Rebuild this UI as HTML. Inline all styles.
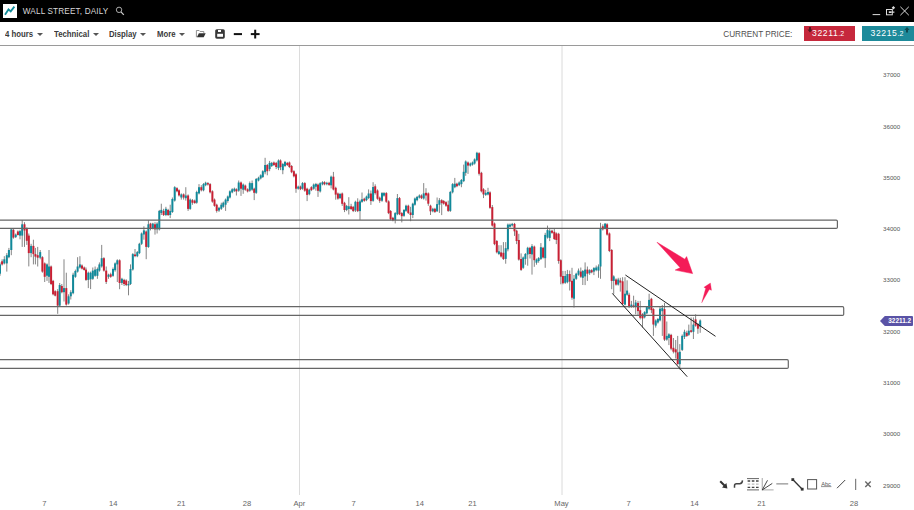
<!DOCTYPE html>
<html><head><meta charset="utf-8"><title>Wall Street, Daily</title>
<style>
html,body{margin:0;padding:0;background:#fff;}
body{width:914px;height:510px;overflow:hidden;position:relative;font-family:"Liberation Sans",sans-serif;}
#top{position:absolute;left:0;top:0;width:914px;height:22px;background:#000;}
#logo{position:absolute;left:3px;top:4px;width:14px;height:14px;background:#fff;}
#title{position:absolute;left:22.8px;top:5.8px;font-size:8.2px;line-height:11px;color:#d8d8d8;letter-spacing:0.15px;white-space:nowrap;}
#tb{position:absolute;left:0;top:22px;width:914px;height:23px;background:#fff;border-bottom:1px solid #9a9a9a;}
.mi{position:absolute;top:7.2px;font-size:8.6px;line-height:10px;font-weight:bold;color:#3a3a3a;white-space:nowrap;transform:scaleX(0.905);transform-origin:0 0;}
.dd{position:absolute;top:10.5px;width:0;height:0;border-left:3px solid transparent;border-right:3px solid transparent;border-top:3.5px solid #555;}
#cp{position:absolute;left:723.3px;top:8.2px;font-size:8.2px;line-height:10px;color:#505050;letter-spacing:-0.03px;white-space:nowrap;}
.pb{position:absolute;top:4px;height:14.5px;color:#fff;font-size:8.6px;letter-spacing:0.6px;line-height:14.5px;white-space:nowrap;}
.pb small{font-size:7px;letter-spacing:0.1px;}
svg text.ax{font-size:6.2px;fill:#555;font-family:"Liberation Sans",sans-serif;}
svg text.axx{font-size:7.6px;fill:#666;font-family:"Liberation Sans",sans-serif;}
</style></head><body>
<div id="top">
 <div id="logo"><svg width="14" height="14" viewBox="0 0 14 14"><polyline points="2,10.8 5.5,5.4 7.7,7.4 11.4,2.6" fill="none" stroke="#128c9b" stroke-width="1.8" stroke-linejoin="miter"/></svg></div>
 <div id="title">WALL STREET, DAILY</div>
 <svg style="position:absolute;left:115px;top:6px" width="12" height="12" viewBox="0 0 12 12"><circle cx="4.05" cy="3.85" r="2.7" fill="none" stroke="#bdbdbd" stroke-width="0.9"/><line x1="6" y1="5.8" x2="8.8" y2="8.8" stroke="#cfcfcf" stroke-width="1.2"/></svg>
 <svg style="position:absolute;left:870px;top:4px" width="42" height="14" viewBox="0 0 42 14">
  <line x1="2.6" y1="10.6" x2="10.2" y2="10.6" stroke="#ddd" stroke-width="1"/>
  <rect x="16.5" y="5.5" width="5.8" height="5.3" fill="none" stroke="#ddd" stroke-width="1"/>
  <rect x="18.8" y="7.3" width="2.6" height="1.7" fill="#ddd"/>
  <path d="M21.4 8.15 h3" stroke="#ddd" stroke-width="1.2" fill="none"/>
  <path d="M23.4 1.9 L25.1 3.7 L23.4 5.5 L21.7 3.7 Z" fill="#ddd"/>
  <path d="M30.4 2.8 L38.8 11.2 M38.8 2.8 L30.4 11.2" stroke="#ddd" stroke-width="1" fill="none"/>
 </svg>
</div>
<div id="tb">
 <div class="mi" style="left:5.4px">4 hours</div><div class="dd" style="left:37px"></div>
 <div class="mi" style="left:53.6px">Technical</div><div class="dd" style="left:93px"></div>
 <div class="mi" style="left:108.8px">Display</div><div class="dd" style="left:140.3px"></div>
 <div class="mi" style="left:156.5px">More</div><div class="dd" style="left:179.2px"></div>
 <svg style="position:absolute;left:194px;top:6px" width="70" height="12" viewBox="0 0 70 12">
  <!-- folder -->
  <path d="M2.4 9.2 V2.5 h2.7 l1 1 h3.7 v1.8" fill="none" stroke="#777" stroke-width="0.8"/>
  <path d="M4.9 5.3 h6.8 l-2 4 h-6.8 z" fill="#333"/>
  <!-- save -->
  <rect x="21.2" y="1.2" width="9.6" height="9.5" rx="1.6" fill="#383838"/>
  <rect x="24" y="2" width="3" height="2" fill="#fff"/>
  <rect x="23.2" y="5.8" width="5.8" height="3" fill="#fff"/>
  <!-- minus -->
  <rect x="39.8" y="5.1" width="8.2" height="2" fill="#111"/>
  <!-- plus -->
  <rect x="56.8" y="5.1" width="8.8" height="2" fill="#111"/>
  <rect x="60.2" y="1.7" width="2" height="8.8" fill="#111"/>
 </svg>
 <div id="cp">CURRENT PRICE:</div>
 <div class="pb" style="left:803.5px;width:51px;background:#c6283c;"><span style="position:absolute;left:8.5px">32211<small>.2</small></span>
  <svg style="position:absolute;left:3px;top:0.5px" width="6" height="6" viewBox="0 0 6 6"><path d="M2 0 h2 v2.6 h1.6 L3 5.6 0.4 2.6 H2z" fill="#5a1a22"/></svg></div>
 <div class="pb" style="left:861.5px;width:52.5px;background:#1d8a9a;"><span style="position:absolute;left:9px">32215<small>.2</small></span>
  <svg style="position:absolute;left:42.5px;top:0.5px" width="6" height="6" viewBox="0 0 6 6"><path d="M2 5.6 h2 v-2.6 h1.6 L3 0 0.4 3 H2z" fill="#0f4a52"/></svg></div>
</div>
<svg id="chart" style="position:absolute;left:0;top:0" width="914" height="510" viewBox="0 0 914 510">
 <line x1="299.5" y1="46" x2="299.5" y2="495" stroke="#dcdcdc" stroke-width="1"/>
 <line x1="562" y1="46" x2="562" y2="495" stroke="#dadada" stroke-width="1"/>
 <g>
<rect x="-0.5" y="262.4" width="1" height="13.4" fill="#858585"/>
<rect x="-1.0" y="264.4" width="2" height="9.3" fill="#11899a"/>
<rect x="1.6" y="259.3" width="1" height="6.2" fill="#858585"/>
<rect x="1.1" y="261.3" width="2" height="3.1" fill="#c82034"/>
<rect x="3.8" y="256.2" width="1" height="8.2" fill="#858585"/>
<rect x="3.3" y="259.3" width="2" height="4.1" fill="#11899a"/>
<rect x="6.3" y="253.1" width="1" height="18.5" fill="#858585"/>
<rect x="5.8" y="255.2" width="2" height="8.2" fill="#11899a"/>
<rect x="8.4" y="247.9" width="1" height="10.3" fill="#858585"/>
<rect x="7.9" y="250.0" width="2" height="7.2" fill="#11899a"/>
<rect x="10.8" y="228.4" width="1" height="26.8" fill="#858585"/>
<rect x="10.3" y="229.4" width="2" height="20.6" fill="#11899a"/>
<rect x="12.9" y="228.4" width="1" height="10.3" fill="#858585"/>
<rect x="12.4" y="229.8" width="2" height="7.8" fill="#c82034"/>
<rect x="15.2" y="233.5" width="1" height="4.5" fill="#858585"/>
<rect x="14.7" y="234.6" width="2" height="2.5" fill="#11899a"/>
<rect x="17.4" y="230.4" width="1" height="5.1" fill="#858585"/>
<rect x="16.9" y="231.5" width="2" height="3.5" fill="#c82034"/>
<rect x="19.5" y="229.8" width="1" height="9.5" fill="#858585"/>
<rect x="19.0" y="231.1" width="2" height="4.5" fill="#11899a"/>
<rect x="21.7" y="220.1" width="1" height="26.8" fill="#858585"/>
<rect x="21.2" y="224.3" width="2" height="11.3" fill="#11899a"/>
<rect x="24.0" y="222.2" width="1" height="24.7" fill="#858585"/>
<rect x="23.5" y="224.3" width="2" height="6.2" fill="#c82034"/>
<rect x="26.3" y="227.4" width="1" height="17.5" fill="#858585"/>
<rect x="25.8" y="228.4" width="2" height="12.4" fill="#c82034"/>
<rect x="28.3" y="233.5" width="1" height="32.9" fill="#858585"/>
<rect x="27.8" y="235.6" width="2" height="17.5" fill="#c82034"/>
<rect x="30.6" y="243.8" width="1" height="13.4" fill="#858585"/>
<rect x="30.1" y="245.9" width="2" height="7.2" fill="#11899a"/>
<rect x="32.9" y="239.7" width="1" height="24.7" fill="#858585"/>
<rect x="32.4" y="245.9" width="2" height="8.2" fill="#c82034"/>
<rect x="34.9" y="247.9" width="1" height="16.5" fill="#858585"/>
<rect x="34.4" y="254.1" width="2" height="2.5" fill="#c82034"/>
<rect x="37.2" y="246.9" width="1" height="19.6" fill="#858585"/>
<rect x="36.7" y="255.2" width="2" height="2.5" fill="#c82034"/>
<rect x="39.7" y="250.0" width="1" height="9.3" fill="#858585"/>
<rect x="39.2" y="252.1" width="2" height="5.6" fill="#11899a"/>
<rect x="41.9" y="256.2" width="1" height="16.5" fill="#858585"/>
<rect x="41.4" y="257.2" width="2" height="14.4" fill="#c82034"/>
<rect x="44.2" y="262.4" width="1" height="19.6" fill="#858585"/>
<rect x="43.7" y="263.4" width="2" height="13.4" fill="#c82034"/>
<rect x="46.5" y="263.4" width="1" height="17.5" fill="#858585"/>
<rect x="46.0" y="264.4" width="2" height="11.3" fill="#11899a"/>
<rect x="48.5" y="250.0" width="1" height="32.9" fill="#858585"/>
<rect x="48.0" y="266.5" width="2" height="10.3" fill="#11899a"/>
<rect x="50.6" y="265.5" width="1" height="19.6" fill="#858585"/>
<rect x="50.1" y="266.5" width="2" height="17.5" fill="#c82034"/>
<rect x="52.6" y="279.9" width="1" height="15.4" fill="#858585"/>
<rect x="52.1" y="280.9" width="2" height="13.4" fill="#c82034"/>
<rect x="54.7" y="290.2" width="1" height="6.2" fill="#858585"/>
<rect x="54.2" y="291.2" width="2" height="4.5" fill="#c82034"/>
<rect x="57.2" y="289.1" width="1" height="24.7" fill="#858585"/>
<rect x="56.7" y="291.2" width="2" height="14.4" fill="#c82034"/>
<rect x="59.2" y="283.0" width="1" height="23.7" fill="#858585"/>
<rect x="58.7" y="285.0" width="2" height="20.6" fill="#11899a"/>
<rect x="61.3" y="284.0" width="1" height="9.3" fill="#858585"/>
<rect x="60.8" y="286.0" width="2" height="6.2" fill="#c82034"/>
<rect x="63.5" y="259.3" width="1" height="42.2" fill="#858585"/>
<rect x="63.0" y="288.1" width="2" height="4.1" fill="#11899a"/>
<rect x="65.8" y="272.7" width="1" height="32.9" fill="#858585"/>
<rect x="65.3" y="288.1" width="2" height="16.5" fill="#c82034"/>
<rect x="68.1" y="294.3" width="1" height="10.3" fill="#858585"/>
<rect x="67.6" y="296.3" width="2" height="7.2" fill="#11899a"/>
<rect x="70.3" y="290.2" width="1" height="9.3" fill="#858585"/>
<rect x="69.8" y="292.2" width="2" height="4.1" fill="#11899a"/>
<rect x="72.6" y="272.7" width="1" height="21.6" fill="#858585"/>
<rect x="72.1" y="274.7" width="2" height="18.5" fill="#11899a"/>
<rect x="74.9" y="269.6" width="1" height="8.2" fill="#858585"/>
<rect x="74.4" y="271.0" width="2" height="5.8" fill="#11899a"/>
<rect x="77.1" y="257.2" width="1" height="15.4" fill="#858585"/>
<rect x="76.6" y="266.5" width="2" height="5.1" fill="#11899a"/>
<rect x="79.4" y="256.2" width="1" height="12.4" fill="#858585"/>
<rect x="78.9" y="264.4" width="2" height="3.1" fill="#11899a"/>
<rect x="81.5" y="264.4" width="1" height="5.1" fill="#858585"/>
<rect x="81.0" y="265.5" width="2" height="3.1" fill="#c82034"/>
<rect x="83.7" y="266.5" width="1" height="4.1" fill="#858585"/>
<rect x="83.2" y="267.5" width="2" height="2.5" fill="#c82034"/>
<rect x="85.5" y="267.5" width="1" height="13.4" fill="#858585"/>
<rect x="85.0" y="269.6" width="2" height="10.3" fill="#c82034"/>
<rect x="87.8" y="271.6" width="1" height="16.5" fill="#858585"/>
<rect x="87.3" y="272.7" width="2" height="7.2" fill="#11899a"/>
<rect x="90.1" y="271.6" width="1" height="17.5" fill="#858585"/>
<rect x="89.6" y="272.7" width="2" height="6.6" fill="#11899a"/>
<rect x="92.3" y="267.5" width="1" height="12.4" fill="#858585"/>
<rect x="91.8" y="270.6" width="2" height="8.2" fill="#11899a"/>
<rect x="94.6" y="266.5" width="1" height="10.3" fill="#858585"/>
<rect x="94.1" y="269.6" width="2" height="6.2" fill="#11899a"/>
<rect x="96.9" y="267.5" width="1" height="11.3" fill="#858585"/>
<rect x="96.4" y="269.0" width="2" height="6.8" fill="#11899a"/>
<rect x="98.9" y="262.4" width="1" height="9.3" fill="#858585"/>
<rect x="98.4" y="264.4" width="2" height="6.2" fill="#11899a"/>
<rect x="101.2" y="244.9" width="1" height="22.7" fill="#858585"/>
<rect x="100.7" y="258.2" width="2" height="8.2" fill="#11899a"/>
<rect x="103.4" y="257.2" width="1" height="14.4" fill="#858585"/>
<rect x="102.9" y="258.2" width="2" height="12.4" fill="#c82034"/>
<rect x="105.7" y="266.5" width="1" height="17.5" fill="#858585"/>
<rect x="105.2" y="270.6" width="2" height="11.3" fill="#c82034"/>
<rect x="108.0" y="273.7" width="1" height="5.1" fill="#858585"/>
<rect x="107.5" y="274.7" width="2" height="2.1" fill="#11899a"/>
<rect x="110.2" y="272.7" width="1" height="5.1" fill="#858585"/>
<rect x="109.7" y="274.3" width="2" height="2.5" fill="#c82034"/>
<rect x="112.5" y="267.5" width="1" height="9.3" fill="#858585"/>
<rect x="112.0" y="269.0" width="2" height="6.8" fill="#11899a"/>
<rect x="114.6" y="262.4" width="1" height="9.3" fill="#858585"/>
<rect x="114.1" y="263.4" width="2" height="6.8" fill="#11899a"/>
<rect x="116.8" y="259.3" width="1" height="22.7" fill="#858585"/>
<rect x="116.3" y="260.3" width="2" height="4.1" fill="#11899a"/>
<rect x="119.1" y="259.3" width="1" height="29.9" fill="#858585"/>
<rect x="118.6" y="260.3" width="2" height="22.7" fill="#c82034"/>
<rect x="121.4" y="277.8" width="1" height="7.2" fill="#858585"/>
<rect x="120.9" y="278.8" width="2" height="4.1" fill="#11899a"/>
<rect x="123.6" y="278.8" width="1" height="7.2" fill="#858585"/>
<rect x="123.1" y="279.9" width="2" height="4.1" fill="#c82034"/>
<rect x="125.7" y="279.3" width="1" height="6.8" fill="#858585"/>
<rect x="125.2" y="280.5" width="2" height="4.5" fill="#c82034"/>
<rect x="128.0" y="280.9" width="1" height="14.4" fill="#858585"/>
<rect x="127.5" y="284.0" width="2" height="1.4" fill="#11899a"/>
<rect x="130.0" y="264.4" width="1" height="20.6" fill="#858585"/>
<rect x="129.5" y="269.0" width="2" height="15.0" fill="#11899a"/>
<rect x="132.3" y="253.1" width="1" height="17.5" fill="#858585"/>
<rect x="131.8" y="254.1" width="2" height="15.4" fill="#11899a"/>
<rect x="134.5" y="249.0" width="1" height="8.2" fill="#858585"/>
<rect x="134.0" y="254.5" width="2" height="1.6" fill="#c82034"/>
<rect x="136.8" y="251.0" width="1" height="6.2" fill="#858585"/>
<rect x="136.3" y="252.1" width="2" height="4.1" fill="#11899a"/>
<rect x="138.9" y="242.8" width="1" height="11.3" fill="#858585"/>
<rect x="138.4" y="243.8" width="2" height="9.3" fill="#11899a"/>
<rect x="141.1" y="232.5" width="1" height="12.4" fill="#858585"/>
<rect x="140.6" y="233.5" width="2" height="10.3" fill="#11899a"/>
<rect x="143.4" y="226.3" width="1" height="13.4" fill="#858585"/>
<rect x="142.9" y="230.4" width="2" height="4.1" fill="#11899a"/>
<rect x="145.7" y="230.4" width="1" height="28.8" fill="#858585"/>
<rect x="145.2" y="231.5" width="2" height="15.4" fill="#c82034"/>
<rect x="147.9" y="220.1" width="1" height="27.8" fill="#858585"/>
<rect x="147.4" y="224.3" width="2" height="22.7" fill="#11899a"/>
<rect x="150.0" y="222.8" width="1" height="7.6" fill="#858585"/>
<rect x="149.5" y="223.6" width="2" height="4.7" fill="#c82034"/>
<rect x="152.3" y="222.8" width="1" height="6.6" fill="#858585"/>
<rect x="151.8" y="223.6" width="2" height="4.7" fill="#11899a"/>
<rect x="154.5" y="222.2" width="1" height="12.4" fill="#858585"/>
<rect x="154.0" y="224.3" width="2" height="5.1" fill="#c82034"/>
<rect x="156.6" y="222.2" width="1" height="11.3" fill="#858585"/>
<rect x="156.1" y="223.6" width="2" height="5.8" fill="#11899a"/>
<rect x="158.8" y="209.9" width="1" height="20.6" fill="#858585"/>
<rect x="158.3" y="210.9" width="2" height="18.5" fill="#11899a"/>
<rect x="160.8" y="203.7" width="1" height="11.3" fill="#858585"/>
<rect x="160.3" y="209.9" width="2" height="3.1" fill="#11899a"/>
<rect x="163.1" y="208.8" width="1" height="7.2" fill="#858585"/>
<rect x="162.6" y="210.9" width="2" height="4.1" fill="#c82034"/>
<rect x="165.4" y="206.8" width="1" height="9.3" fill="#858585"/>
<rect x="164.9" y="208.8" width="2" height="6.2" fill="#11899a"/>
<rect x="167.6" y="208.8" width="1" height="7.2" fill="#858585"/>
<rect x="167.1" y="209.9" width="2" height="5.1" fill="#c82034"/>
<rect x="169.7" y="204.7" width="1" height="13.4" fill="#858585"/>
<rect x="169.2" y="210.9" width="2" height="4.1" fill="#11899a"/>
<rect x="171.9" y="197.5" width="1" height="15.4" fill="#858585"/>
<rect x="171.4" y="199.0" width="2" height="13.0" fill="#11899a"/>
<rect x="174.2" y="186.2" width="1" height="15.4" fill="#858585"/>
<rect x="173.7" y="187.2" width="2" height="13.4" fill="#11899a"/>
<rect x="176.5" y="187.2" width="1" height="5.1" fill="#858585"/>
<rect x="176.0" y="188.2" width="2" height="3.1" fill="#c82034"/>
<rect x="178.5" y="189.3" width="1" height="7.2" fill="#858585"/>
<rect x="178.0" y="190.3" width="2" height="5.1" fill="#c82034"/>
<rect x="180.8" y="193.4" width="1" height="6.2" fill="#858585"/>
<rect x="180.3" y="194.4" width="2" height="3.1" fill="#11899a"/>
<rect x="183.1" y="193.4" width="1" height="6.2" fill="#858585"/>
<rect x="182.6" y="194.4" width="2" height="3.1" fill="#c82034"/>
<rect x="185.3" y="187.2" width="1" height="13.4" fill="#858585"/>
<rect x="184.8" y="195.5" width="2" height="2.7" fill="#11899a"/>
<rect x="187.6" y="194.4" width="1" height="16.5" fill="#858585"/>
<rect x="187.1" y="195.5" width="2" height="13.4" fill="#c82034"/>
<rect x="189.7" y="198.5" width="1" height="11.3" fill="#858585"/>
<rect x="189.2" y="199.6" width="2" height="9.3" fill="#11899a"/>
<rect x="191.9" y="199.0" width="1" height="5.8" fill="#858585"/>
<rect x="191.4" y="200.2" width="2" height="2.5" fill="#c82034"/>
<rect x="194.2" y="199.6" width="1" height="4.1" fill="#858585"/>
<rect x="193.7" y="200.6" width="2" height="2.5" fill="#c82034"/>
<rect x="196.2" y="190.7" width="1" height="13.0" fill="#858585"/>
<rect x="195.7" y="192.0" width="2" height="10.7" fill="#11899a"/>
<rect x="198.5" y="184.1" width="1" height="10.3" fill="#858585"/>
<rect x="198.0" y="187.2" width="2" height="6.2" fill="#11899a"/>
<rect x="200.8" y="185.2" width="1" height="6.2" fill="#858585"/>
<rect x="200.3" y="187.2" width="2" height="3.1" fill="#c82034"/>
<rect x="203.0" y="183.1" width="1" height="8.2" fill="#858585"/>
<rect x="202.5" y="184.1" width="2" height="6.2" fill="#11899a"/>
<rect x="205.1" y="181.7" width="1" height="4.5" fill="#858585"/>
<rect x="204.6" y="182.7" width="2" height="2.5" fill="#11899a"/>
<rect x="207.4" y="182.1" width="1" height="3.5" fill="#858585"/>
<rect x="206.9" y="183.1" width="2" height="1.4" fill="#c82034"/>
<rect x="209.6" y="183.1" width="1" height="10.3" fill="#858585"/>
<rect x="209.1" y="184.1" width="2" height="8.2" fill="#c82034"/>
<rect x="211.9" y="190.3" width="1" height="12.4" fill="#858585"/>
<rect x="211.4" y="191.3" width="2" height="10.3" fill="#c82034"/>
<rect x="214.0" y="198.5" width="1" height="8.2" fill="#858585"/>
<rect x="213.5" y="199.6" width="2" height="6.2" fill="#c82034"/>
<rect x="216.2" y="203.7" width="1" height="8.9" fill="#858585"/>
<rect x="215.7" y="204.7" width="2" height="6.2" fill="#c82034"/>
<rect x="218.5" y="206.8" width="1" height="5.1" fill="#858585"/>
<rect x="218.0" y="207.8" width="2" height="2.7" fill="#11899a"/>
<rect x="220.8" y="202.7" width="1" height="7.2" fill="#858585"/>
<rect x="220.3" y="204.7" width="2" height="4.1" fill="#11899a"/>
<rect x="222.8" y="201.6" width="1" height="6.2" fill="#858585"/>
<rect x="222.3" y="202.7" width="2" height="4.1" fill="#11899a"/>
<rect x="225.1" y="198.5" width="1" height="12.4" fill="#858585"/>
<rect x="224.6" y="199.6" width="2" height="5.1" fill="#11899a"/>
<rect x="227.3" y="195.5" width="1" height="7.2" fill="#858585"/>
<rect x="226.8" y="196.5" width="2" height="4.5" fill="#11899a"/>
<rect x="229.4" y="190.3" width="1" height="8.2" fill="#858585"/>
<rect x="228.9" y="191.3" width="2" height="6.2" fill="#11899a"/>
<rect x="231.7" y="188.2" width="1" height="5.1" fill="#858585"/>
<rect x="231.2" y="189.3" width="2" height="3.1" fill="#11899a"/>
<rect x="233.9" y="187.6" width="1" height="4.3" fill="#858585"/>
<rect x="233.4" y="188.7" width="2" height="2.1" fill="#11899a"/>
<rect x="235.9" y="188.3" width="1" height="7.2" fill="#858585"/>
<rect x="235.4" y="189.3" width="2" height="2.1" fill="#c82034"/>
<rect x="238.2" y="180.5" width="1" height="11.3" fill="#858585"/>
<rect x="237.7" y="182.5" width="2" height="8.2" fill="#11899a"/>
<rect x="240.5" y="181.5" width="1" height="14.4" fill="#858585"/>
<rect x="240.0" y="182.5" width="2" height="6.2" fill="#c82034"/>
<rect x="242.7" y="183.5" width="1" height="10.3" fill="#858585"/>
<rect x="242.2" y="184.6" width="2" height="5.1" fill="#11899a"/>
<rect x="244.8" y="184.6" width="1" height="6.2" fill="#858585"/>
<rect x="244.3" y="185.6" width="2" height="4.1" fill="#c82034"/>
<rect x="247.1" y="188.3" width="1" height="4.1" fill="#858585"/>
<rect x="246.6" y="189.3" width="2" height="2.1" fill="#c82034"/>
<rect x="249.3" y="181.5" width="1" height="10.3" fill="#858585"/>
<rect x="248.8" y="183.1" width="2" height="7.6" fill="#11899a"/>
<rect x="251.6" y="180.5" width="1" height="10.3" fill="#858585"/>
<rect x="251.1" y="183.1" width="2" height="6.6" fill="#11899a"/>
<rect x="253.7" y="187.7" width="1" height="12.4" fill="#858585"/>
<rect x="253.2" y="188.7" width="2" height="4.1" fill="#c82034"/>
<rect x="255.7" y="178.0" width="1" height="15.9" fill="#858585"/>
<rect x="255.2" y="179.0" width="2" height="13.8" fill="#11899a"/>
<rect x="258.0" y="176.7" width="1" height="4.7" fill="#858585"/>
<rect x="257.5" y="177.8" width="2" height="2.7" fill="#11899a"/>
<rect x="260.2" y="174.3" width="1" height="5.1" fill="#858585"/>
<rect x="259.7" y="175.3" width="2" height="3.1" fill="#11899a"/>
<rect x="262.3" y="170.2" width="1" height="7.8" fill="#858585"/>
<rect x="261.8" y="171.2" width="2" height="5.8" fill="#11899a"/>
<rect x="264.6" y="157.8" width="1" height="16.5" fill="#858585"/>
<rect x="264.1" y="165.0" width="2" height="7.2" fill="#11899a"/>
<rect x="266.8" y="164.0" width="1" height="11.3" fill="#858585"/>
<rect x="266.3" y="165.0" width="2" height="6.2" fill="#c82034"/>
<rect x="269.1" y="160.9" width="1" height="10.3" fill="#858585"/>
<rect x="268.6" y="162.9" width="2" height="6.2" fill="#11899a"/>
<rect x="271.2" y="161.9" width="1" height="5.1" fill="#858585"/>
<rect x="270.7" y="162.9" width="2" height="3.1" fill="#11899a"/>
<rect x="273.4" y="161.5" width="1" height="4.5" fill="#858585"/>
<rect x="272.9" y="162.5" width="2" height="2.5" fill="#c82034"/>
<rect x="275.7" y="161.9" width="1" height="7.2" fill="#858585"/>
<rect x="275.2" y="162.9" width="2" height="4.1" fill="#c82034"/>
<rect x="278.0" y="159.4" width="1" height="10.7" fill="#858585"/>
<rect x="277.5" y="160.5" width="2" height="7.6" fill="#11899a"/>
<rect x="280.0" y="159.4" width="1" height="10.7" fill="#858585"/>
<rect x="279.5" y="160.5" width="2" height="6.6" fill="#c82034"/>
<rect x="282.3" y="162.9" width="1" height="11.3" fill="#858585"/>
<rect x="281.8" y="164.0" width="2" height="6.2" fill="#11899a"/>
<rect x="284.5" y="160.9" width="1" height="6.2" fill="#858585"/>
<rect x="284.0" y="161.9" width="2" height="4.1" fill="#11899a"/>
<rect x="286.8" y="161.9" width="1" height="4.1" fill="#858585"/>
<rect x="286.3" y="162.9" width="2" height="2.1" fill="#c82034"/>
<rect x="288.9" y="161.5" width="1" height="6.6" fill="#858585"/>
<rect x="288.4" y="162.5" width="2" height="4.5" fill="#c82034"/>
<rect x="291.1" y="165.0" width="1" height="8.2" fill="#858585"/>
<rect x="290.6" y="166.0" width="2" height="6.2" fill="#c82034"/>
<rect x="293.4" y="170.2" width="1" height="7.2" fill="#858585"/>
<rect x="292.9" y="171.2" width="2" height="5.1" fill="#c82034"/>
<rect x="295.5" y="173.2" width="1" height="19.6" fill="#858585"/>
<rect x="295.0" y="174.3" width="2" height="14.4" fill="#c82034"/>
<rect x="297.7" y="185.6" width="1" height="4.1" fill="#858585"/>
<rect x="297.2" y="186.6" width="2" height="2.1" fill="#11899a"/>
<rect x="300.0" y="185.6" width="1" height="4.5" fill="#858585"/>
<rect x="299.5" y="186.6" width="2" height="2.5" fill="#c82034"/>
<rect x="302.0" y="182.1" width="1" height="7.6" fill="#858585"/>
<rect x="301.5" y="183.1" width="2" height="5.6" fill="#11899a"/>
<rect x="304.3" y="182.1" width="1" height="9.7" fill="#858585"/>
<rect x="303.8" y="183.1" width="2" height="7.6" fill="#c82034"/>
<rect x="306.6" y="187.7" width="1" height="13.4" fill="#858585"/>
<rect x="306.1" y="188.7" width="2" height="6.2" fill="#c82034"/>
<rect x="308.8" y="188.7" width="1" height="6.6" fill="#858585"/>
<rect x="308.3" y="189.7" width="2" height="4.5" fill="#11899a"/>
<rect x="310.9" y="186.2" width="1" height="4.9" fill="#858585"/>
<rect x="310.4" y="187.2" width="2" height="2.9" fill="#c82034"/>
<rect x="313.2" y="183.5" width="1" height="6.2" fill="#858585"/>
<rect x="312.7" y="184.6" width="2" height="4.1" fill="#11899a"/>
<rect x="315.4" y="182.9" width="1" height="7.8" fill="#858585"/>
<rect x="314.9" y="184.0" width="2" height="2.7" fill="#11899a"/>
<rect x="317.5" y="183.5" width="1" height="13.4" fill="#858585"/>
<rect x="317.0" y="184.6" width="2" height="6.2" fill="#c82034"/>
<rect x="319.7" y="182.2" width="1" height="10.3" fill="#858585"/>
<rect x="319.2" y="183.2" width="2" height="8.2" fill="#11899a"/>
<rect x="322.0" y="181.2" width="1" height="4.1" fill="#858585"/>
<rect x="321.5" y="182.2" width="2" height="2.1" fill="#11899a"/>
<rect x="324.0" y="181.2" width="1" height="4.1" fill="#858585"/>
<rect x="323.5" y="182.2" width="2" height="2.1" fill="#c82034"/>
<rect x="326.3" y="181.8" width="1" height="3.5" fill="#858585"/>
<rect x="325.8" y="182.8" width="2" height="1.4" fill="#11899a"/>
<rect x="328.6" y="181.8" width="1" height="4.1" fill="#858585"/>
<rect x="328.1" y="182.8" width="2" height="2.1" fill="#c82034"/>
<rect x="330.6" y="175.6" width="1" height="12.8" fill="#858585"/>
<rect x="330.1" y="176.7" width="2" height="8.6" fill="#11899a"/>
<rect x="332.9" y="171.9" width="1" height="18.5" fill="#858585"/>
<rect x="332.4" y="176.7" width="2" height="12.8" fill="#c82034"/>
<rect x="335.2" y="186.7" width="1" height="13.0" fill="#858585"/>
<rect x="334.7" y="187.8" width="2" height="6.8" fill="#c82034"/>
<rect x="337.4" y="192.5" width="1" height="7.2" fill="#858585"/>
<rect x="336.9" y="193.5" width="2" height="5.1" fill="#c82034"/>
<rect x="339.5" y="192.9" width="1" height="6.2" fill="#858585"/>
<rect x="339.0" y="194.0" width="2" height="4.1" fill="#11899a"/>
<rect x="341.7" y="192.5" width="1" height="13.4" fill="#858585"/>
<rect x="341.2" y="193.5" width="2" height="10.3" fill="#c82034"/>
<rect x="344.0" y="201.8" width="1" height="10.3" fill="#858585"/>
<rect x="343.5" y="202.8" width="2" height="7.2" fill="#c82034"/>
<rect x="346.1" y="204.9" width="1" height="6.2" fill="#858585"/>
<rect x="345.6" y="205.9" width="2" height="4.1" fill="#11899a"/>
<rect x="348.3" y="197.2" width="1" height="17.3" fill="#858585"/>
<rect x="347.8" y="206.3" width="2" height="2.7" fill="#11899a"/>
<rect x="350.6" y="203.8" width="1" height="6.2" fill="#858585"/>
<rect x="350.1" y="206.3" width="2" height="2.7" fill="#c82034"/>
<rect x="352.7" y="205.9" width="1" height="6.2" fill="#858585"/>
<rect x="352.2" y="206.9" width="2" height="4.1" fill="#c82034"/>
<rect x="354.9" y="200.7" width="1" height="11.3" fill="#858585"/>
<rect x="354.4" y="201.8" width="2" height="8.6" fill="#11899a"/>
<rect x="357.2" y="198.3" width="1" height="13.8" fill="#858585"/>
<rect x="356.7" y="201.8" width="2" height="9.3" fill="#c82034"/>
<rect x="359.5" y="199.7" width="1" height="20.2" fill="#858585"/>
<rect x="359.0" y="201.4" width="2" height="9.7" fill="#11899a"/>
<rect x="361.5" y="192.5" width="1" height="10.3" fill="#858585"/>
<rect x="361.0" y="199.3" width="2" height="2.5" fill="#11899a"/>
<rect x="363.8" y="197.7" width="1" height="4.1" fill="#858585"/>
<rect x="363.3" y="198.7" width="2" height="2.1" fill="#c82034"/>
<rect x="366.0" y="195.6" width="1" height="5.6" fill="#858585"/>
<rect x="365.5" y="196.6" width="2" height="3.5" fill="#11899a"/>
<rect x="368.1" y="189.4" width="1" height="9.7" fill="#858585"/>
<rect x="367.6" y="193.5" width="2" height="4.5" fill="#11899a"/>
<rect x="370.4" y="190.5" width="1" height="14.4" fill="#858585"/>
<rect x="369.9" y="193.5" width="2" height="7.6" fill="#c82034"/>
<rect x="372.6" y="182.2" width="1" height="19.6" fill="#858585"/>
<rect x="372.1" y="187.0" width="2" height="13.8" fill="#11899a"/>
<rect x="374.7" y="184.3" width="1" height="10.3" fill="#858585"/>
<rect x="374.2" y="186.3" width="2" height="6.8" fill="#c82034"/>
<rect x="377.0" y="189.4" width="1" height="10.3" fill="#858585"/>
<rect x="376.5" y="190.5" width="2" height="8.2" fill="#c82034"/>
<rect x="379.2" y="196.6" width="1" height="6.2" fill="#858585"/>
<rect x="378.7" y="197.7" width="2" height="3.1" fill="#c82034"/>
<rect x="381.5" y="192.1" width="1" height="9.7" fill="#858585"/>
<rect x="381.0" y="193.1" width="2" height="7.6" fill="#11899a"/>
<rect x="383.5" y="192.1" width="1" height="4.5" fill="#858585"/>
<rect x="383.0" y="193.1" width="2" height="2.5" fill="#11899a"/>
<rect x="385.8" y="192.1" width="1" height="10.7" fill="#858585"/>
<rect x="385.3" y="193.1" width="2" height="8.6" fill="#c82034"/>
<rect x="388.1" y="200.3" width="1" height="13.8" fill="#858585"/>
<rect x="387.6" y="201.4" width="2" height="11.7" fill="#c82034"/>
<rect x="390.1" y="210.0" width="1" height="10.3" fill="#858585"/>
<rect x="389.6" y="211.0" width="2" height="8.2" fill="#c82034"/>
<rect x="392.4" y="216.8" width="1" height="4.5" fill="#858585"/>
<rect x="391.9" y="217.8" width="2" height="2.5" fill="#c82034"/>
<rect x="394.7" y="212.1" width="1" height="11.3" fill="#858585"/>
<rect x="394.2" y="213.1" width="2" height="6.8" fill="#11899a"/>
<rect x="396.9" y="194.0" width="1" height="21.2" fill="#858585"/>
<rect x="396.4" y="198.1" width="2" height="16.1" fill="#11899a"/>
<rect x="399.0" y="197.0" width="1" height="18.1" fill="#858585"/>
<rect x="398.5" y="198.1" width="2" height="16.1" fill="#c82034"/>
<rect x="401.3" y="212.1" width="1" height="10.3" fill="#858585"/>
<rect x="400.8" y="213.1" width="2" height="3.1" fill="#c82034"/>
<rect x="403.5" y="209.0" width="1" height="7.8" fill="#858585"/>
<rect x="403.0" y="210.0" width="2" height="5.8" fill="#11899a"/>
<rect x="405.5" y="204.7" width="1" height="7.2" fill="#858585"/>
<rect x="405.0" y="205.7" width="2" height="5.1" fill="#11899a"/>
<rect x="407.8" y="204.7" width="1" height="9.3" fill="#858585"/>
<rect x="407.3" y="205.7" width="2" height="7.2" fill="#c82034"/>
<rect x="410.1" y="206.8" width="1" height="14.4" fill="#858585"/>
<rect x="409.6" y="212.5" width="2" height="2.5" fill="#c82034"/>
<rect x="412.3" y="202.7" width="1" height="15.4" fill="#858585"/>
<rect x="411.8" y="203.7" width="2" height="11.3" fill="#11899a"/>
<rect x="414.4" y="197.5" width="1" height="8.2" fill="#858585"/>
<rect x="413.9" y="198.5" width="2" height="6.2" fill="#11899a"/>
<rect x="416.6" y="195.9" width="1" height="5.4" fill="#858585"/>
<rect x="416.1" y="196.9" width="2" height="3.3" fill="#11899a"/>
<rect x="418.9" y="194.4" width="1" height="4.1" fill="#858585"/>
<rect x="418.4" y="195.5" width="2" height="2.1" fill="#11899a"/>
<rect x="421.0" y="194.4" width="1" height="4.7" fill="#858585"/>
<rect x="420.5" y="195.5" width="2" height="2.7" fill="#c82034"/>
<rect x="423.2" y="183.1" width="1" height="16.5" fill="#858585"/>
<rect x="422.7" y="193.4" width="2" height="5.1" fill="#11899a"/>
<rect x="425.5" y="188.2" width="1" height="12.4" fill="#858585"/>
<rect x="425.0" y="192.8" width="2" height="2.7" fill="#c82034"/>
<rect x="427.8" y="192.4" width="1" height="13.4" fill="#858585"/>
<rect x="427.3" y="193.4" width="2" height="10.3" fill="#c82034"/>
<rect x="430.0" y="204.7" width="1" height="10.3" fill="#858585"/>
<rect x="429.5" y="205.7" width="2" height="5.6" fill="#c82034"/>
<rect x="432.3" y="207.8" width="1" height="4.5" fill="#858585"/>
<rect x="431.8" y="208.8" width="2" height="2.5" fill="#11899a"/>
<rect x="434.4" y="207.8" width="1" height="5.1" fill="#858585"/>
<rect x="433.9" y="208.8" width="2" height="3.1" fill="#c82034"/>
<rect x="436.6" y="197.5" width="1" height="14.4" fill="#858585"/>
<rect x="436.1" y="204.1" width="2" height="7.2" fill="#11899a"/>
<rect x="438.9" y="198.1" width="1" height="14.8" fill="#858585"/>
<rect x="438.4" y="200.2" width="2" height="4.5" fill="#11899a"/>
<rect x="441.2" y="199.2" width="1" height="15.9" fill="#858585"/>
<rect x="440.7" y="200.2" width="2" height="2.9" fill="#c82034"/>
<rect x="443.2" y="200.0" width="1" height="4.7" fill="#858585"/>
<rect x="442.7" y="201.0" width="2" height="2.7" fill="#c82034"/>
<rect x="445.5" y="201.2" width="1" height="5.6" fill="#858585"/>
<rect x="445.0" y="202.2" width="2" height="3.5" fill="#c82034"/>
<rect x="447.7" y="200.6" width="1" height="11.3" fill="#858585"/>
<rect x="447.2" y="204.7" width="2" height="6.2" fill="#c82034"/>
<rect x="449.8" y="190.9" width="1" height="21.0" fill="#858585"/>
<rect x="449.3" y="192.0" width="2" height="18.9" fill="#11899a"/>
<rect x="452.1" y="183.1" width="1" height="10.3" fill="#858585"/>
<rect x="451.6" y="184.1" width="2" height="8.2" fill="#11899a"/>
<rect x="454.3" y="177.9" width="1" height="10.3" fill="#858585"/>
<rect x="453.8" y="183.7" width="2" height="3.5" fill="#11899a"/>
<rect x="456.4" y="182.7" width="1" height="4.5" fill="#858585"/>
<rect x="455.9" y="183.7" width="2" height="2.5" fill="#c82034"/>
<rect x="458.7" y="181.4" width="1" height="4.7" fill="#858585"/>
<rect x="458.2" y="182.5" width="2" height="2.7" fill="#11899a"/>
<rect x="460.9" y="179.0" width="1" height="8.2" fill="#858585"/>
<rect x="460.4" y="180.0" width="2" height="4.1" fill="#11899a"/>
<rect x="463.2" y="164.6" width="1" height="17.5" fill="#858585"/>
<rect x="462.7" y="171.8" width="2" height="9.3" fill="#11899a"/>
<rect x="465.2" y="160.4" width="1" height="15.4" fill="#858585"/>
<rect x="464.7" y="161.5" width="2" height="11.3" fill="#11899a"/>
<rect x="467.5" y="161.5" width="1" height="12.4" fill="#858585"/>
<rect x="467.0" y="162.5" width="2" height="3.1" fill="#c82034"/>
<rect x="469.8" y="162.5" width="1" height="4.1" fill="#858585"/>
<rect x="469.3" y="163.5" width="2" height="2.1" fill="#11899a"/>
<rect x="472.0" y="161.5" width="1" height="4.1" fill="#858585"/>
<rect x="471.5" y="162.5" width="2" height="2.1" fill="#11899a"/>
<rect x="474.1" y="158.4" width="1" height="6.2" fill="#858585"/>
<rect x="473.6" y="159.4" width="2" height="4.1" fill="#11899a"/>
<rect x="476.4" y="151.8" width="1" height="9.7" fill="#858585"/>
<rect x="475.9" y="152.8" width="2" height="7.6" fill="#11899a"/>
<rect x="478.6" y="152.2" width="1" height="23.3" fill="#858585"/>
<rect x="478.1" y="153.2" width="2" height="20.6" fill="#c82034"/>
<rect x="480.9" y="171.8" width="1" height="20.6" fill="#858585"/>
<rect x="480.4" y="172.8" width="2" height="18.5" fill="#c82034"/>
<rect x="483.0" y="188.2" width="1" height="9.9" fill="#858585"/>
<rect x="482.5" y="189.3" width="2" height="5.1" fill="#c82034"/>
<rect x="485.2" y="189.9" width="1" height="6.0" fill="#858585"/>
<rect x="484.7" y="192.8" width="2" height="2.1" fill="#11899a"/>
<rect x="487.5" y="187.8" width="1" height="7.6" fill="#858585"/>
<rect x="487.0" y="192.0" width="2" height="2.5" fill="#11899a"/>
<rect x="489.5" y="191.3" width="1" height="17.5" fill="#858585"/>
<rect x="489.0" y="192.4" width="2" height="15.4" fill="#c82034"/>
<rect x="491.8" y="205.0" width="1" height="21.6" fill="#858585"/>
<rect x="491.3" y="207.1" width="2" height="18.5" fill="#c82034"/>
<rect x="494.0" y="222.5" width="1" height="22.7" fill="#858585"/>
<rect x="493.5" y="223.5" width="2" height="20.6" fill="#c82034"/>
<rect x="496.3" y="240.0" width="1" height="13.4" fill="#858585"/>
<rect x="495.8" y="241.0" width="2" height="11.3" fill="#c82034"/>
<rect x="498.4" y="245.2" width="1" height="9.9" fill="#858585"/>
<rect x="497.9" y="251.3" width="2" height="2.7" fill="#11899a"/>
<rect x="500.6" y="245.2" width="1" height="12.4" fill="#858585"/>
<rect x="500.1" y="252.4" width="2" height="4.1" fill="#c82034"/>
<rect x="502.9" y="242.1" width="1" height="17.9" fill="#858585"/>
<rect x="502.4" y="252.8" width="2" height="6.2" fill="#c82034"/>
<rect x="505.2" y="242.1" width="1" height="21.6" fill="#858585"/>
<rect x="504.7" y="248.2" width="2" height="10.7" fill="#11899a"/>
<rect x="507.4" y="223.5" width="1" height="27.8" fill="#858585"/>
<rect x="506.9" y="224.6" width="2" height="24.7" fill="#11899a"/>
<rect x="509.5" y="223.5" width="1" height="4.1" fill="#858585"/>
<rect x="509.0" y="224.6" width="2" height="2.1" fill="#11899a"/>
<rect x="511.7" y="222.9" width="1" height="3.7" fill="#858585"/>
<rect x="511.2" y="223.9" width="2" height="1.6" fill="#11899a"/>
<rect x="514.0" y="222.9" width="1" height="13.0" fill="#858585"/>
<rect x="513.5" y="223.9" width="2" height="7.4" fill="#c82034"/>
<rect x="516.1" y="229.7" width="1" height="14.4" fill="#858585"/>
<rect x="515.6" y="230.7" width="2" height="10.3" fill="#c82034"/>
<rect x="518.3" y="233.8" width="1" height="26.8" fill="#858585"/>
<rect x="517.8" y="240.0" width="2" height="19.6" fill="#c82034"/>
<rect x="520.6" y="253.4" width="1" height="17.5" fill="#858585"/>
<rect x="520.1" y="259.0" width="2" height="10.9" fill="#c82034"/>
<rect x="522.7" y="256.5" width="1" height="12.4" fill="#858585"/>
<rect x="522.2" y="257.5" width="2" height="10.3" fill="#11899a"/>
<rect x="524.9" y="253.0" width="1" height="11.7" fill="#858585"/>
<rect x="524.4" y="254.0" width="2" height="4.9" fill="#11899a"/>
<rect x="527.2" y="246.8" width="1" height="18.9" fill="#858585"/>
<rect x="526.7" y="247.8" width="2" height="6.6" fill="#11899a"/>
<rect x="529.5" y="246.8" width="1" height="11.7" fill="#858585"/>
<rect x="529.0" y="247.8" width="2" height="6.2" fill="#c82034"/>
<rect x="531.5" y="244.1" width="1" height="30.5" fill="#858585"/>
<rect x="531.0" y="246.2" width="2" height="8.2" fill="#11899a"/>
<rect x="533.8" y="245.6" width="1" height="21.2" fill="#858585"/>
<rect x="533.3" y="246.6" width="2" height="13.6" fill="#c82034"/>
<rect x="536.0" y="258.5" width="1" height="6.2" fill="#858585"/>
<rect x="535.5" y="259.6" width="2" height="3.1" fill="#11899a"/>
<rect x="538.1" y="257.1" width="1" height="5.6" fill="#858585"/>
<rect x="537.6" y="258.1" width="2" height="2.9" fill="#11899a"/>
<rect x="540.4" y="243.1" width="1" height="16.9" fill="#858585"/>
<rect x="539.9" y="247.2" width="2" height="11.7" fill="#11899a"/>
<rect x="542.6" y="246.8" width="1" height="11.7" fill="#858585"/>
<rect x="542.1" y="247.8" width="2" height="9.7" fill="#c82034"/>
<rect x="544.7" y="232.8" width="1" height="35.0" fill="#858585"/>
<rect x="544.2" y="234.9" width="2" height="23.3" fill="#11899a"/>
<rect x="547.0" y="225.6" width="1" height="13.0" fill="#858585"/>
<rect x="546.5" y="230.1" width="2" height="7.4" fill="#11899a"/>
<rect x="549.2" y="228.7" width="1" height="12.4" fill="#858585"/>
<rect x="548.7" y="230.7" width="2" height="7.2" fill="#11899a"/>
<rect x="551.5" y="229.7" width="1" height="4.1" fill="#858585"/>
<rect x="551.0" y="230.7" width="2" height="2.1" fill="#c82034"/>
<rect x="553.8" y="228.7" width="1" height="11.3" fill="#858585"/>
<rect x="553.3" y="231.8" width="2" height="7.2" fill="#c82034"/>
<rect x="555.8" y="232.4" width="1" height="11.7" fill="#858585"/>
<rect x="555.3" y="233.4" width="2" height="6.6" fill="#c82034"/>
<rect x="558.1" y="232.8" width="1" height="30.9" fill="#858585"/>
<rect x="557.6" y="233.8" width="2" height="27.2" fill="#c82034"/>
<rect x="560.3" y="259.2" width="1" height="25.1" fill="#858585"/>
<rect x="559.8" y="260.2" width="2" height="16.5" fill="#c82034"/>
<rect x="562.4" y="270.9" width="1" height="13.4" fill="#858585"/>
<rect x="561.9" y="276.0" width="2" height="7.2" fill="#c82034"/>
<rect x="564.7" y="270.9" width="1" height="13.0" fill="#858585"/>
<rect x="564.2" y="276.0" width="2" height="6.8" fill="#11899a"/>
<rect x="566.9" y="269.9" width="1" height="13.4" fill="#858585"/>
<rect x="566.4" y="274.0" width="2" height="8.2" fill="#11899a"/>
<rect x="569.2" y="270.5" width="1" height="20.0" fill="#858585"/>
<rect x="568.7" y="274.0" width="2" height="7.6" fill="#c82034"/>
<rect x="571.5" y="267.8" width="1" height="31.9" fill="#858585"/>
<rect x="571.0" y="280.8" width="2" height="16.9" fill="#c82034"/>
<rect x="573.5" y="275.0" width="1" height="32.5" fill="#858585"/>
<rect x="573.0" y="278.7" width="2" height="20.0" fill="#11899a"/>
<rect x="575.7" y="272.7" width="1" height="7.2" fill="#858585"/>
<rect x="575.2" y="273.7" width="2" height="5.1" fill="#11899a"/>
<rect x="578.0" y="268.5" width="1" height="7.2" fill="#858585"/>
<rect x="577.5" y="270.6" width="2" height="4.1" fill="#11899a"/>
<rect x="580.3" y="267.5" width="1" height="10.3" fill="#858585"/>
<rect x="579.8" y="271.6" width="2" height="5.1" fill="#c82034"/>
<rect x="582.3" y="270.0" width="1" height="15.0" fill="#858585"/>
<rect x="581.8" y="271.0" width="2" height="6.8" fill="#11899a"/>
<rect x="584.6" y="262.4" width="1" height="22.7" fill="#858585"/>
<rect x="584.1" y="269.6" width="2" height="6.8" fill="#11899a"/>
<rect x="586.9" y="266.5" width="1" height="14.4" fill="#858585"/>
<rect x="586.4" y="269.6" width="2" height="4.1" fill="#c82034"/>
<rect x="589.1" y="269.2" width="1" height="5.6" fill="#858585"/>
<rect x="588.6" y="270.2" width="2" height="2.9" fill="#11899a"/>
<rect x="591.2" y="269.2" width="1" height="4.1" fill="#858585"/>
<rect x="590.7" y="270.2" width="2" height="2.1" fill="#c82034"/>
<rect x="593.4" y="267.1" width="1" height="8.0" fill="#858585"/>
<rect x="592.9" y="268.1" width="2" height="3.5" fill="#11899a"/>
<rect x="595.7" y="265.5" width="1" height="5.8" fill="#858585"/>
<rect x="595.2" y="267.5" width="2" height="2.7" fill="#11899a"/>
<rect x="598.0" y="264.4" width="1" height="13.4" fill="#858585"/>
<rect x="597.5" y="266.5" width="2" height="4.1" fill="#11899a"/>
<rect x="600.0" y="222.8" width="1" height="56.0" fill="#858585"/>
<rect x="599.5" y="228.4" width="2" height="38.1" fill="#11899a"/>
<rect x="602.3" y="224.3" width="1" height="6.2" fill="#858585"/>
<rect x="601.8" y="226.3" width="2" height="3.1" fill="#c82034"/>
<rect x="604.6" y="223.2" width="1" height="6.2" fill="#858585"/>
<rect x="604.1" y="223.6" width="2" height="4.7" fill="#11899a"/>
<rect x="606.6" y="223.2" width="1" height="12.4" fill="#858585"/>
<rect x="606.1" y="224.3" width="2" height="10.3" fill="#c82034"/>
<rect x="608.9" y="232.5" width="1" height="19.6" fill="#858585"/>
<rect x="608.4" y="233.5" width="2" height="17.5" fill="#c82034"/>
<rect x="611.2" y="249.0" width="1" height="40.2" fill="#858585"/>
<rect x="610.7" y="250.0" width="2" height="30.9" fill="#c82034"/>
<rect x="613.2" y="275.3" width="1" height="18.9" fill="#858585"/>
<rect x="612.7" y="276.4" width="2" height="4.5" fill="#11899a"/>
<rect x="615.5" y="278.4" width="1" height="7.2" fill="#858585"/>
<rect x="615.0" y="279.5" width="2" height="5.1" fill="#c82034"/>
<rect x="617.7" y="277.8" width="1" height="7.8" fill="#858585"/>
<rect x="617.2" y="279.5" width="2" height="5.1" fill="#11899a"/>
<rect x="619.8" y="277.8" width="1" height="13.8" fill="#858585"/>
<rect x="619.3" y="280.5" width="2" height="2.1" fill="#c82034"/>
<rect x="622.1" y="277.2" width="1" height="27.6" fill="#858585"/>
<rect x="621.6" y="281.3" width="2" height="22.7" fill="#c82034"/>
<rect x="624.5" y="277.2" width="1" height="28.2" fill="#858585"/>
<rect x="624.0" y="293.7" width="2" height="10.9" fill="#11899a"/>
<rect x="626.6" y="280.3" width="1" height="15.4" fill="#858585"/>
<rect x="626.1" y="290.6" width="2" height="4.1" fill="#11899a"/>
<rect x="628.6" y="292.7" width="1" height="15.4" fill="#858585"/>
<rect x="628.1" y="294.7" width="2" height="11.3" fill="#c82034"/>
<rect x="630.9" y="300.9" width="1" height="6.8" fill="#858585"/>
<rect x="630.4" y="304.6" width="2" height="2.1" fill="#11899a"/>
<rect x="633.1" y="295.7" width="1" height="11.9" fill="#858585"/>
<rect x="632.6" y="305.4" width="2" height="1.6" fill="#c82034"/>
<rect x="635.2" y="299.9" width="1" height="14.4" fill="#858585"/>
<rect x="634.7" y="302.5" width="2" height="4.1" fill="#11899a"/>
<rect x="637.5" y="300.9" width="1" height="14.4" fill="#858585"/>
<rect x="637.0" y="302.9" width="2" height="8.2" fill="#c82034"/>
<rect x="639.7" y="300.9" width="1" height="18.5" fill="#858585"/>
<rect x="639.2" y="310.2" width="2" height="7.6" fill="#c82034"/>
<rect x="642.0" y="313.2" width="1" height="14.4" fill="#858585"/>
<rect x="641.5" y="314.3" width="2" height="4.1" fill="#c82034"/>
<rect x="644.1" y="311.2" width="1" height="7.2" fill="#858585"/>
<rect x="643.6" y="312.2" width="2" height="5.1" fill="#11899a"/>
<rect x="646.3" y="306.0" width="1" height="8.2" fill="#858585"/>
<rect x="645.8" y="307.1" width="2" height="6.2" fill="#11899a"/>
<rect x="648.6" y="293.7" width="1" height="16.5" fill="#858585"/>
<rect x="648.1" y="299.9" width="2" height="8.9" fill="#11899a"/>
<rect x="650.9" y="297.8" width="1" height="15.4" fill="#858585"/>
<rect x="650.4" y="298.8" width="2" height="11.3" fill="#c82034"/>
<rect x="652.9" y="308.1" width="1" height="27.8" fill="#858585"/>
<rect x="652.4" y="309.1" width="2" height="15.4" fill="#c82034"/>
<rect x="655.2" y="319.4" width="1" height="8.2" fill="#858585"/>
<rect x="654.7" y="320.5" width="2" height="5.1" fill="#11899a"/>
<rect x="657.4" y="318.0" width="1" height="5.6" fill="#858585"/>
<rect x="656.9" y="319.0" width="2" height="3.5" fill="#11899a"/>
<rect x="659.5" y="306.0" width="1" height="15.4" fill="#858585"/>
<rect x="659.0" y="308.7" width="2" height="11.7" fill="#11899a"/>
<rect x="661.8" y="305.0" width="1" height="30.9" fill="#858585"/>
<rect x="661.3" y="308.1" width="2" height="3.1" fill="#11899a"/>
<rect x="664.0" y="302.9" width="1" height="38.1" fill="#858585"/>
<rect x="663.5" y="309.1" width="2" height="30.5" fill="#c82034"/>
<rect x="666.3" y="321.5" width="1" height="19.2" fill="#858585"/>
<rect x="665.8" y="335.9" width="2" height="3.7" fill="#11899a"/>
<rect x="668.4" y="333.2" width="1" height="11.9" fill="#858585"/>
<rect x="667.9" y="334.3" width="2" height="3.7" fill="#11899a"/>
<rect x="670.6" y="333.8" width="1" height="16.5" fill="#858585"/>
<rect x="670.1" y="334.9" width="2" height="13.8" fill="#c82034"/>
<rect x="672.9" y="338.0" width="1" height="15.4" fill="#858585"/>
<rect x="672.4" y="347.8" width="2" height="3.9" fill="#c82034"/>
<rect x="675.2" y="340.0" width="1" height="18.5" fill="#858585"/>
<rect x="674.7" y="349.3" width="2" height="3.1" fill="#c82034"/>
<rect x="677.2" y="335.9" width="1" height="28.8" fill="#858585"/>
<rect x="676.7" y="352.4" width="2" height="11.7" fill="#c82034"/>
<rect x="679.3" y="344.1" width="1" height="25.5" fill="#858585"/>
<rect x="678.8" y="351.8" width="2" height="12.4" fill="#11899a"/>
<rect x="681.7" y="334.5" width="1" height="16.5" fill="#858585"/>
<rect x="681.2" y="335.9" width="2" height="14.0" fill="#11899a"/>
<rect x="684.0" y="329.7" width="1" height="9.3" fill="#858585"/>
<rect x="683.5" y="331.8" width="2" height="5.1" fill="#11899a"/>
<rect x="686.3" y="330.7" width="1" height="6.2" fill="#858585"/>
<rect x="685.8" y="332.8" width="2" height="3.1" fill="#c82034"/>
<rect x="688.3" y="324.6" width="1" height="11.3" fill="#858585"/>
<rect x="687.8" y="330.7" width="2" height="4.1" fill="#11899a"/>
<rect x="690.6" y="317.4" width="1" height="15.4" fill="#858585"/>
<rect x="690.1" y="330.3" width="2" height="1.6" fill="#c82034"/>
<rect x="692.9" y="317.4" width="1" height="21.6" fill="#858585"/>
<rect x="692.4" y="324.6" width="2" height="7.2" fill="#11899a"/>
<rect x="695.1" y="314.3" width="1" height="12.4" fill="#858585"/>
<rect x="694.6" y="319.4" width="2" height="6.2" fill="#c82034"/>
<rect x="697.4" y="322.9" width="1" height="10.9" fill="#858585"/>
<rect x="696.9" y="324.0" width="2" height="4.7" fill="#c82034"/>
<rect x="699.7" y="319.4" width="1" height="13.4" fill="#858585"/>
<rect x="699.2" y="320.5" width="2" height="6.2" fill="#11899a"/>
 </g>
 <!-- zones -->
 <rect x="-5" y="220.1" width="842.4" height="8.3" rx="1.2" fill="none" stroke="#666" stroke-width="1.2"/>
 <rect x="-5" y="306.7" width="848.7" height="8.7" rx="1.2" fill="none" stroke="#666" stroke-width="1.2"/>
 <rect x="-5" y="359.7" width="793.3" height="8.7" rx="1.2" fill="none" stroke="#666" stroke-width="1.2"/>
 <!-- wedge -->
 <line x1="625.4" y1="275" x2="715.5" y2="336.3" stroke="#222" stroke-width="1"/>
 <line x1="612.3" y1="293.4" x2="687.2" y2="376.7" stroke="#222" stroke-width="1"/>
 <!-- arrows -->
 <path d="M657.0 242.3 L684.8 259.2 L686.6 256.6 L692.6 273.6 L675.2 270.1 L680.2 267.7 Z" fill="#f41c58" stroke="#f41c58" stroke-width="0.5" stroke-linejoin="round"/>
 <path d="M701.7 302.8 L705.7 288.2 L703.9 287.3 L710.4 283 L711.5 290.3 L709.3 289.6 Z" fill="#f41c58" stroke="#f41c58" stroke-width="0.3" stroke-linejoin="round"/>
 <!-- price tag -->
 <path d="M880 321 L884.8 316 H912 a1 1 0 0 1 1 1 V325 a1 1 0 0 1 -1 1 H884.8 Z" fill="#5a53a6"/>
 <text x="888.3" y="323.4" style="font-size:6.4px;font-weight:bold;fill:#fff;font-family:'Liberation Sans',sans-serif;">32211.2</text>
<text x="883" y="77.4" class="ax">37000</text>
<text x="883" y="128.6" class="ax">36000</text>
<text x="883" y="179.7" class="ax">35000</text>
<text x="883" y="230.9" class="ax">34000</text>
<text x="883" y="282.2" class="ax">33000</text>
<text x="883" y="333.7" class="ax">32000</text>
<text x="883" y="385.0" class="ax">31000</text>
<text x="883" y="436.4" class="ax">30000</text>
<text x="883" y="487.6" class="ax">29000</text>
<text x="44.3" y="506" class="axx" text-anchor="middle">7</text>
<text x="113.2" y="506" class="axx" text-anchor="middle">14</text>
<text x="181.2" y="506" class="axx" text-anchor="middle">21</text>
<text x="247.1" y="506" class="axx" text-anchor="middle">28</text>
<text x="299.4" y="506" class="axx" text-anchor="middle">Apr</text>
<text x="353.5" y="506" class="axx" text-anchor="middle">7</text>
<text x="419.7" y="506" class="axx" text-anchor="middle">14</text>
<text x="472.6" y="506" class="axx" text-anchor="middle">21</text>
<text x="561.5" y="506" class="axx" text-anchor="middle">May</text>
<text x="628.6" y="506" class="axx" text-anchor="middle">7</text>
<text x="694.6" y="506" class="axx" text-anchor="middle">14</text>
<text x="761.5" y="506" class="axx" text-anchor="middle">21</text>
<text x="854.1" y="506" class="axx" text-anchor="middle">28</text>
 <!-- drawing tools -->
 <g id="tools" stroke="#555" fill="none" stroke-width="1">
  <path d="M720.2 481.2 L725 486" stroke="#333" stroke-width="2"/>
  <path d="M727.4 488.4 L722 487.4 L726.4 483 Z" fill="#333" stroke="none"/>
  <path d="M734.5 487.8 v-2 q0 -2 2 -2 h3.2 q2.6 0 2.8 -3.4" stroke="#444" stroke-width="1.5"/>
  <path d="M747 478.6 h12 M747 489.9 h12" stroke="#666" stroke-width="1"/>
  <path d="M747.6 481 h11.4 M747.6 487.3 h11.4" stroke="#444" stroke-width="1.3" stroke-dasharray="2.6 1.6"/>
  <path d="M747.6 484.1 h11.4" stroke="#bbb" stroke-width="1.2" stroke-dasharray="2.6 1.6"/>
  <path d="M762.3 478.1 V489.9 H773.6" stroke="#bbb" stroke-width="1.3"/>
  <path d="M762.3 489.9 L767.5 480.3 M762.3 489.9 L772.3 483.4" stroke="#333" stroke-width="0.9"/>
  <path d="M776.3 483.9 H788.2" stroke="#777" stroke-width="1"/>
  <path d="M793 479.8 L802 489" stroke="#333" stroke-width="1.3"/>
  <rect x="791.4" y="478.2" width="2.8" height="2.8" fill="#333" stroke="none"/><rect x="800.8" y="487.8" width="2.8" height="2.8" fill="#333" stroke="none"/>
  <rect x="807.6" y="479.6" width="9" height="9.4" stroke="#555" stroke-width="1"/>
  <path d="M821 486.6 h10.4" stroke="#666" stroke-width="0.7"/>
  <path d="M837 488.2 L845.2 480" stroke="#444" stroke-width="1"/>
  <path d="M855.7 478.8 V490" stroke="#666" stroke-width="1"/>
  <path d="M865.3 481.6 l5.4 5.4 m0 -5.4 l-5.4 5.4" stroke="#666" stroke-width="1.4"/>
 </g>
 <text x="821.2" y="486" style="font-size:5.6px;fill:#555;font-family:'Liberation Sans',sans-serif;">Abc</text>
</svg>
</body></html>
